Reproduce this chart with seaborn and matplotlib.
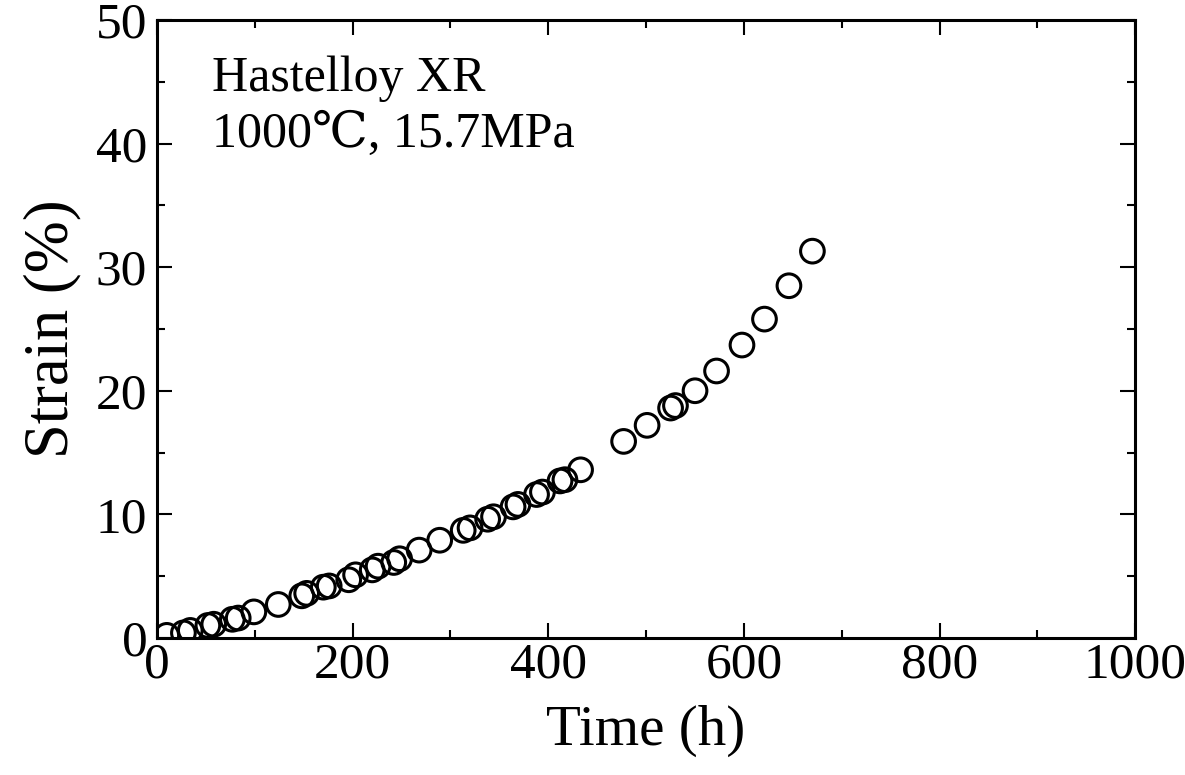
import matplotlib
matplotlib.use('Agg')
import matplotlib.pyplot as plt
import seaborn as sns
import pandas as pd

# creep curve
time_h = [10, 27, 34, 52, 58, 77, 83, 99, 124, 148, 153, 170, 176, 196, 203,
          220, 226, 242, 248, 268, 289, 313, 320, 338, 344, 364, 369, 388, 394,
          412, 417, 433, 477, 501, 525, 530, 550, 572, 598, 621, 646, 670]
strain_pct = [0.2, 0.4, 0.6, 1.0, 1.1, 1.5, 1.6, 2.1, 2.7, 3.4, 3.6, 4.1, 4.2,
              4.7, 5.1, 5.5, 5.8, 6.1, 6.4, 7.1, 7.9, 8.7, 8.9, 9.6, 9.8, 10.6,
              10.8, 11.6, 11.8, 12.7, 12.8, 13.6, 15.9, 17.2, 18.6, 18.8, 20.0,
              21.6, 23.7, 25.8, 28.5, 31.3]
x_ticks = [0, 200, 400, 600, 800, 1000]
y_ticks = [0, 10, 20, 30, 40, 50]

df = pd.DataFrame({'time': time_h, 'strain': strain_pct})

sns.set_style('ticks')
plt.rcParams['font.family'] = ['Liberation Serif', 'DejaVu Serif']
plt.rcParams['text.color'] = 'black'
plt.rcParams['axes.labelcolor'] = 'black'

fig = plt.figure(figsize=(11.85, 7.75), dpi=100)
ax = fig.add_axes([0.1325, 0.177, 0.8255, 0.797])

sns.scatterplot(data=df, x='time', y='strain', ax=ax, s=290, marker='o',
                facecolor='none', edgecolor='black', linewidth=2.2)

ax.set_xlim(0, 1000)
ax.set_ylim(0, 50)
ax.set_xticks(x_ticks)
ax.set_yticks(y_ticks)
ax.set_xticks(range(100, 1000, 200), minor=True)
ax.set_yticks(range(5, 50, 10), minor=True)
ax.tick_params(which='both', direction='in', top=True, right=True,
               width=1.5, colors='black', labelcolor='black')
ax.tick_params(which='major', length=11, labelsize=37)
ax.tick_params(which='minor', length=6)
ax.tick_params(axis='x', pad=3)
ax.tick_params(axis='y', pad=7)
for sp in ax.spines.values():
    sp.set_linewidth(2.2)
    sp.set_color('black')

ax.set_xlabel('Time (h)', fontsize=41, labelpad=12)
ax.set_ylabel('Strain (%)', fontsize=45, labelpad=10)

ax.text(0.056, 0.942, 'Hastelloy XR', transform=ax.transAxes,
        fontsize=36, va='top', ha='left')
ax.text(0.056, 0.853, '1000\u2103, 15.7MPa', transform=ax.transAxes,
        fontsize=36, va='top', ha='left')

fig.savefig('out.png', dpi=100)
